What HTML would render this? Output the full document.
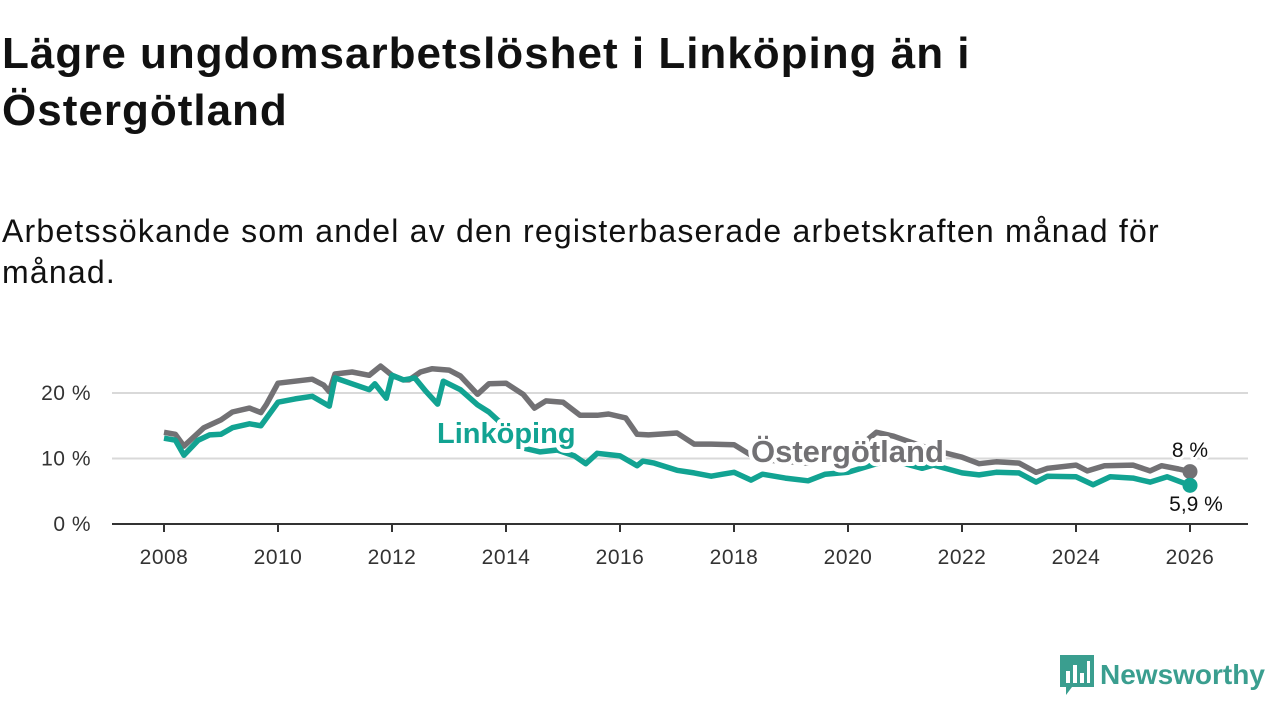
<!DOCTYPE html>
<html><head><meta charset="utf-8">
<style>
body{margin:0;width:1280px;height:720px;background:#fff;font-family:"Liberation Sans",sans-serif;overflow:hidden;position:relative;color:#111}
h1{position:absolute;left:2px;top:25px;margin:0;font-size:44px;line-height:57px;font-weight:bold;width:1270px;letter-spacing:1px;white-space:nowrap}
.sub{position:absolute;left:2px;top:211px;margin:0;font-size:32px;line-height:41px;width:1270px;color:#111;letter-spacing:1.2px;white-space:nowrap}
svg{position:absolute;left:0;top:0}
</style></head><body>
<h1>Lägre ungdomsarbetslöshet i Linköping än i<br>Östergötland</h1>
<p class="sub">Arbetssökande som andel av den registerbaserade arbetskraften månad för<br>månad.</p>
<svg id="chart" width="1280" height="720"></svg>
<script>
const yTicks=[0,10,20];
const yTickLabels=["0 %","10 %","20 %"];
const xTicks=[2008,2010,2012,2014,2016,2018,2020,2022,2024,2026];
const ostT=[2008.0,2008.2,2008.35,2008.5,2008.7,2009.0,2009.2,2009.5,2009.7,2009.8,2010.0,2010.3,2010.6,2010.8,2010.9,2011.0,2011.3,2011.6,2011.8,2012.0,2012.2,2012.3,2012.5,2012.7,2013.0,2013.2,2013.5,2013.7,2014.0,2014.3,2014.5,2014.7,2015.0,2015.3,2015.6,2015.8,2016.1,2016.3,2016.5,2017.0,2017.3,2017.6,2018.0,2018.3,2018.5,2019.0,2019.3,2019.6,2020.0,2020.5,2020.8,2021.0,2021.5,2022.0,2022.3,2022.6,2023.0,2023.3,2023.5,2024.0,2024.2,2024.5,2025.0,2025.3,2025.5,2025.8,2026.0];
const ostV=[14.0,13.7,11.9,13.1,14.7,15.9,17.1,17.7,17.0,18.3,21.5,21.8,22.1,21.2,20.2,22.9,23.2,22.7,24.1,22.7,22.0,22.0,23.2,23.7,23.5,22.6,19.8,21.4,21.5,19.8,17.7,18.8,18.6,16.6,16.6,16.8,16.2,13.7,13.6,13.9,12.2,12.2,12.1,10.5,9.8,9.5,9.3,10.1,10.4,14.0,13.4,12.8,11.3,10.2,9.2,9.5,9.3,7.9,8.5,9.0,8.1,8.9,9.0,8.1,8.9,8.4,8.0];
const linT=[2008.0,2008.2,2008.35,2008.6,2008.8,2009.0,2009.2,2009.5,2009.7,2010.0,2010.3,2010.6,2010.9,2011.0,2011.3,2011.6,2011.7,2011.9,2012.0,2012.2,2012.4,2012.6,2012.8,2012.9,2013.2,2013.5,2013.7,2014.0,2014.3,2014.6,2014.9,2015.2,2015.4,2015.6,2016.0,2016.3,2016.4,2016.6,2017.0,2017.3,2017.6,2017.8,2018.0,2018.3,2018.5,2018.9,2019.3,2019.6,2020.0,2020.5,2020.8,2021.0,2021.3,2021.5,2022.0,2022.3,2022.6,2023.0,2023.3,2023.5,2024.0,2024.3,2024.6,2025.0,2025.3,2025.6,2026.0];
const linV=[13.1,12.8,10.5,12.8,13.6,13.7,14.7,15.3,15.0,18.6,19.1,19.5,18.0,22.3,21.4,20.5,21.4,19.2,22.7,22.0,22.3,20.2,18.3,21.8,20.5,18.2,17.1,14.7,11.6,11.0,11.3,10.4,9.2,10.8,10.4,8.9,9.6,9.3,8.2,7.8,7.3,7.6,7.9,6.7,7.6,7.0,6.6,7.6,7.9,9.2,9.8,9.2,8.5,9.0,7.8,7.5,7.9,7.8,6.4,7.3,7.2,6.0,7.2,7.0,6.4,7.2,5.9];
const NS="http://www.w3.org/2000/svg";
const svg=document.getElementById('chart');
const X=t=>164+(t-2008)*57;
const Y=v=>524-v*6.55;
function mk(tag,attrs,parent){const e=document.createElementNS(NS,tag);for(const k in attrs)e.setAttribute(k,attrs[k]);(parent||svg).appendChild(e);return e;}
yTicks.forEach((v,i)=>{
 if(v>0){const g=mk('line',{x1:112,x2:1248,y1:Y(v),y2:Y(v),stroke:'#d9d9d9','stroke-width':2});
 
 }
 const t=mk('text',{x:91,y:Y(v)+7,'text-anchor':'end','font-size':21,fill:'#333','letter-spacing':0.5});t.textContent=yTickLabels[i];
 
 
});
const ax=mk('line',{x1:112,x2:1248,y1:Y(0),y2:Y(0),stroke:'#333','stroke-width':2});


xTicks.forEach(y=>{
 const tk=mk('line',{x1:X(y),x2:X(y),y1:Y(0),y2:Y(0)+8,stroke:'#333','stroke-width':2});
 
 
 const t=mk('text',{x:X(y),y:Y(0)+40,'text-anchor':'middle','font-size':21,fill:'#333','letter-spacing':0.5});t.textContent=y;
 
 
});
function line(T,V,color,name){
 const d=T.map((t,i)=>(i?'L':'M')+X(t).toFixed(1)+','+Y(V[i]).toFixed(1)).join('');
 const p=mk('path',{d:d,fill:'none',stroke:color,'stroke-width':5.5,'stroke-linejoin':'round'});
 
 
 const n=T.length-1;
 const c=mk('circle',{cx:X(T[n]),cy:Y(V[n]),r:7.5,fill:color});
 
 
}
line(ostT,ostV,'#727174','ostergotland-line');
line(linT,linV,'#12a392','linkoping-line');
function lbl(x,y,txt,color,size,bold,name,anchor,sw){
 const t=mk('text',{x:x,y:y,'font-size':size,'font-weight':bold?'bold':'normal',fill:color,stroke:'#fff','stroke-width':sw||6,'paint-order':'stroke','stroke-linejoin':'round','text-anchor':anchor||'start'});
 t.textContent=txt;
 
 
}
lbl(437,443,'Linköping','#12a392',29,true,'linkoping-label','start',8);
lbl(751,462,'Östergötland','#727174',31,true,'ostergotland-label','start',8);
lbl(X(2026),457,'8 %','#111',21,false,'ostergotland-end-value','middle');
lbl(X(2026)+6,511,'5,9 %','#111',21,false,'linkoping-end-value','middle');
</script>
<div style="position:absolute;left:1060px;top:655px;height:40px;display:flex;align-items:center">
 <svg width="34" height="40" style="position:static" viewBox="0 0 34 40"><path d="M0 0H34V32H12L6 40V32H0Z" fill="#3a9e8f"/><rect x="6" y="16" width="4" height="12" fill="#fff"/><rect x="13" y="10" width="4" height="18" fill="#fff"/><rect x="20" y="18" width="4" height="10" fill="#fff"/><rect x="27" y="6" width="3" height="22" fill="#fff"/></svg>
 <span style="font-size:28px;color:#3a9e8f;font-weight:bold;margin-left:6px">Newsworthy</span>
</div>
</body></html>
